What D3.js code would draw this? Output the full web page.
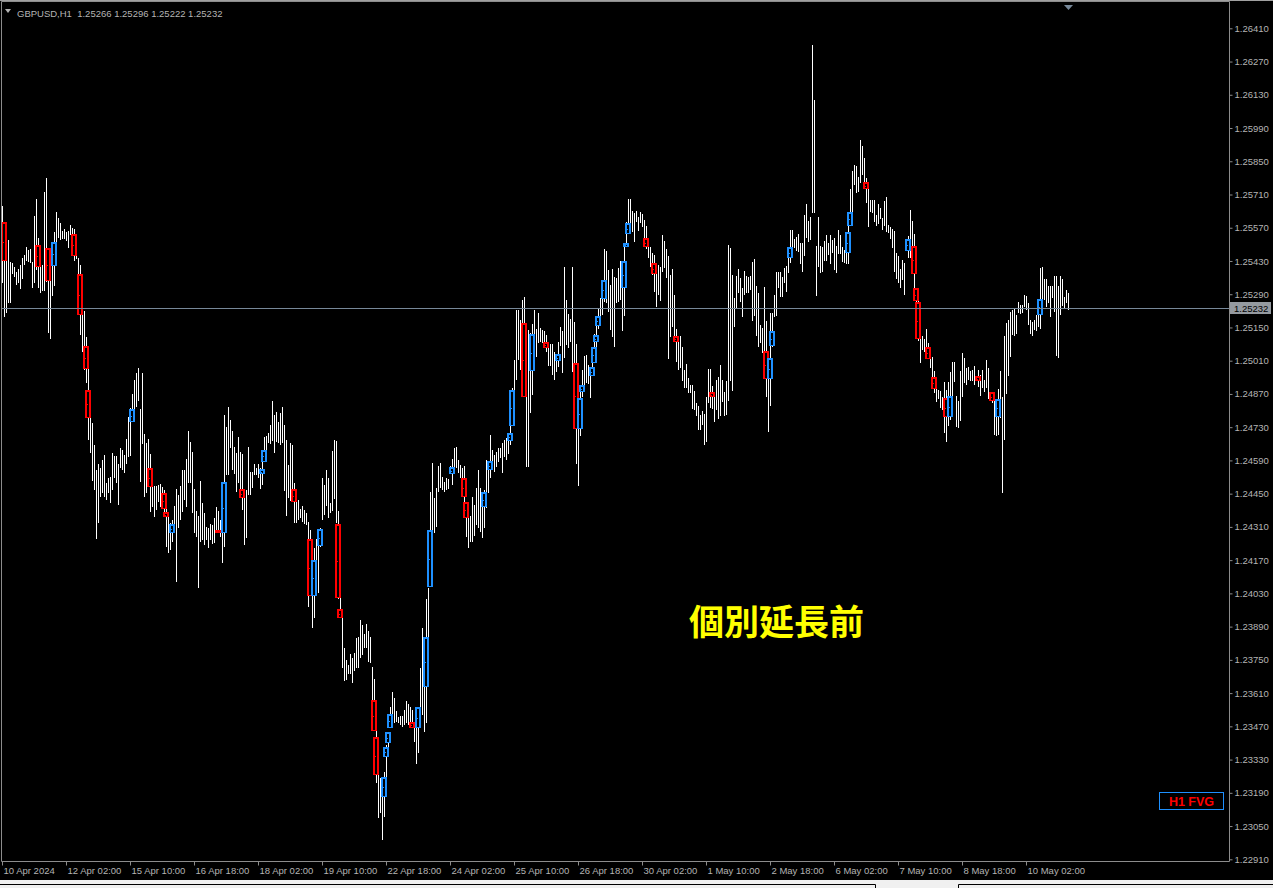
<!DOCTYPE html>
<html><head><meta charset="utf-8">
<script src="https://cdn.jsdelivr.net/npm/d3@7"></script>
<style>html,body{margin:0;padding:0;background:#000;overflow:hidden}</style>
</head><body><svg id="c" width="1273" height="888"></svg>
<script>
const symbol = "GBPUSD,H1";
const lastOHLC = ["1.25266", "1.25296", "1.25222", "1.25232"];
const bidPrice = 1.25232;
const annotation = "個別延長前";
const badge = "H1 FVG";

const timeLabels = ["10 Apr 2024","12 Apr 02:00","15 Apr 10:00","16 Apr 18:00","18 Apr 02:00","19 Apr 10:00","22 Apr 18:00","24 Apr 02:00","25 Apr 10:00","26 Apr 18:00","30 Apr 02:00","1 May 10:00","2 May 18:00","6 May 02:00","7 May 10:00","8 May 18:00","10 May 02:00"];
const timeLabelBars = [0,32,64,96,128,160,192,224,256,288,320,352,384,416,448,480,512];

const priceTicks = [1.22910,1.23050,1.23190,1.23330,1.23470,1.23610,1.23750,1.23890,1.24030,1.24170,1.24310,1.24450,1.24590,1.24730,1.24870,1.25010,1.25150,1.25290,1.25430,1.25570,1.25710,1.25850,1.25990,1.26130,1.26270,1.26410];

const high = [
1.25661,1.25434,1.25535,1.25518,1.25425,1.25420,1.25403,1.25385,1.25396,1.25413,
1.25441,1.25455,1.25489,1.25476,1.25480,1.25427,1.25619,1.25691,1.25525,1.25497,
1.25413,1.25720,1.25779,1.25476,1.25455,1.25511,1.25553,1.25636,1.25609,1.25588,
1.25556,1.25563,1.25553,1.25556,1.25581,1.25567,1.25563,1.25518,1.25441,1.25413,
1.25223,1.25219,1.25111,1.24992,1.24767,1.24746,1.24655,1.24549,1.24577,1.24556,
1.24591,1.24611,1.24493,1.24514,1.24521,1.24620,1.24608,1.24608,1.24577,1.24641,
1.24634,1.24613,1.24679,1.24774,1.24809,1.24870,1.24929,1.24959,1.24978,1.24805,
1.24958,1.24701,1.24662,1.24679,1.24617,1.24486,1.24482,1.24482,1.24486,1.24490,
1.24476,1.24465,1.24409,1.24353,1.24325,1.24339,1.24398,1.24468,1.24444,1.24482,
1.24549,1.24549,1.24594,1.24714,1.24667,1.24625,1.24469,1.24378,1.24357,1.24503,
1.24412,1.24367,1.24311,1.24304,1.24322,1.24318,1.24349,1.24395,1.24378,1.24339,
1.24499,1.24781,1.24732,1.24816,1.24760,1.24714,1.24648,1.24620,1.24690,1.24627,
1.24617,1.24465,1.24465,1.24648,1.24542,1.24542,1.24577,1.24556,1.24575,1.24556,
1.24629,1.24690,1.24694,1.24704,1.24740,1.24841,1.24782,1.24796,1.24751,1.24789,
1.24814,1.24740,1.24676,1.24571,1.24662,1.24655,1.24494,1.24466,1.24424,1.24386,
1.24396,1.24382,1.24368,1.24330,1.24297,1.24171,1.24220,1.24259,1.24297,1.24304,
1.24515,1.24487,1.24550,1.24515,1.24410,1.24630,1.24676,1.24672,1.24377,1.24017,
1.23925,1.23799,1.23750,1.23729,1.23774,1.23757,1.23778,1.23841,1.23845,1.23917,
1.23897,1.23858,1.23900,1.23872,1.23848,1.23722,1.23670,1.23581,1.23265,1.23251,
1.23237,1.23279,1.23392,1.23448,1.23553,1.23616,1.23588,1.23535,1.23511,1.23515,
1.23515,1.23539,1.23577,1.23563,1.23553,1.23539,1.23490,1.23469,1.23546,1.23715,
1.23883,1.23757,1.24007,1.24054,1.24459,1.24581,1.24431,1.24473,1.24568,1.24578,
1.24522,1.24501,1.24515,1.24512,1.24567,1.24596,1.24641,1.24646,1.24592,1.24571,
1.24560,1.24568,1.24368,1.24403,1.24354,1.24434,1.24403,1.24473,1.24550,1.24473,
1.24459,1.24466,1.24592,1.24585,1.24697,1.24634,1.24613,1.24627,1.24641,1.24641,
1.24662,1.24676,1.24683,1.24704,1.24747,1.24895,1.25013,1.25223,1.25223,1.25181,
1.25266,1.25278,1.25097,1.25139,1.25126,1.25165,1.25224,1.25144,1.25210,1.25147,
1.25140,1.25135,1.25119,1.25081,1.25081,1.25081,1.25046,1.25027,1.25090,1.25151,
1.25135,1.25403,1.25266,1.25205,1.25184,1.25403,1.25172,1.25079,1.24852,1.24901,
1.24971,1.25030,1.25034,1.24992,1.24978,1.25069,1.25123,1.25182,1.25227,1.25273,
1.25350,1.25481,1.25472,1.25392,1.25329,1.25395,1.25361,1.25357,1.25399,1.25430,
1.25427,1.25505,1.25596,1.25690,1.25690,1.25642,1.25631,1.25642,1.25617,1.25638,
1.25628,1.25603,1.25578,1.25488,1.25488,1.25462,1.25455,1.25418,1.25413,1.25406,
1.25540,1.25516,1.25479,1.25451,1.25371,1.25398,1.25287,1.25145,1.25116,1.25114,
1.25069,1.24971,1.24996,1.24936,1.24908,1.24908,1.24883,1.24833,1.24819,1.24782,
1.24800,1.24784,1.24859,1.24975,1.24975,1.24904,1.24859,1.24929,1.24943,1.24992,
1.24929,1.24880,1.24926,1.25498,1.25484,1.25371,1.25276,1.25367,1.25397,1.25357,
1.25315,1.25388,1.25367,1.25361,1.25367,1.25425,1.25439,1.25325,1.25297,1.25161,
1.25147,1.25319,1.25177,1.24999,1.25213,1.25210,1.25287,1.25382,1.25382,1.25385,
1.25361,1.25399,1.25409,1.25484,1.25561,1.25561,1.25521,1.25533,1.25544,1.25505,
1.25505,1.25624,1.25670,1.25600,1.25614,1.26340,1.26108,1.25491,1.25614,1.25493,
1.25488,1.25515,1.25540,1.25505,1.25540,1.25519,1.25526,1.25491,1.25561,1.25540,
1.25488,1.25477,1.25547,1.25638,1.25732,1.25811,1.25835,1.25830,1.25785,1.25940,
1.25915,1.25864,1.25778,1.25739,1.25687,1.25687,1.25687,1.25624,1.25670,1.25652,
1.25610,1.25684,1.25698,1.25582,1.25575,1.25565,1.25557,1.25463,1.25451,1.25397,
1.25434,1.25420,1.25523,1.25536,1.25645,1.25600,1.25544,1.25311,1.25266,1.25112,
1.25114,1.25100,1.25142,1.25083,1.25055,1.25025,1.24968,1.24894,1.24887,1.24883,
1.24859,1.24919,1.24887,1.24919,1.24964,1.25003,1.25003,1.24863,1.24842,1.24968,
1.25044,1.25020,1.24978,1.24982,1.24968,1.24971,1.24988,1.24943,1.24971,1.24950,
1.24971,1.24929,1.25013,1.24978,1.24880,1.24866,1.24866,1.24831,1.24890,1.24968,
1.24859,1.25112,1.25168,1.25182,1.25217,1.25224,1.25231,1.25203,1.25259,1.25245,
1.25245,1.25287,1.25283,1.25252,1.25182,1.25175,1.25182,1.25203,1.25266,1.25399,
1.25406,1.25353,1.25353,1.25325,1.25325,1.25325,1.25367,1.25367,1.25325,1.25367,
1.25353,1.25280,1.25308,1.25296];

const low = [
1.25336,1.25195,1.25212,1.25251,1.25254,1.25375,1.25361,1.25329,1.25338,1.25313,
1.25355,1.25413,1.25431,1.25427,1.25423,1.25317,1.25336,1.25392,1.25315,1.25296,
1.25305,1.25305,1.25343,1.25125,1.25100,1.25282,1.25326,1.25511,1.25525,1.25518,
1.25522,1.25522,1.25515,1.25486,1.25539,1.25451,1.25431,1.25437,1.25361,1.25118,
1.25048,1.24971,1.24914,1.24676,1.24620,1.24504,1.24465,1.24257,1.24325,1.24437,
1.24451,1.24437,1.24423,1.24451,1.24409,1.24465,1.24514,1.24493,1.24401,1.24556,
1.24549,1.24538,1.24577,1.24606,1.24608,1.24774,1.24774,1.24816,1.24841,1.24500,
1.24659,1.24437,1.24454,1.24514,1.24374,1.24395,1.24350,1.24381,1.24416,1.24392,
1.24409,1.24350,1.24227,1.24198,1.24212,1.24248,1.24290,1.24079,1.24304,1.24339,
1.24374,1.24423,1.24395,1.24493,1.24493,1.24367,1.24285,1.24269,1.24051,1.24248,
1.24255,1.24234,1.24255,1.24220,1.24255,1.24238,1.24241,1.24290,1.24287,1.24269,
1.24159,1.24224,1.24528,1.24528,1.24641,1.24549,1.24533,1.24458,1.24497,1.24458,
1.24381,1.24234,1.24262,1.24444,1.24444,1.24472,1.24528,1.24528,1.24518,1.24468,
1.24486,1.24591,1.24627,1.24665,1.24658,1.24672,1.24620,1.24669,1.24665,1.24655,
1.24662,1.24463,1.24358,1.24431,1.24419,1.24431,1.24328,1.24328,1.24339,1.24346,
1.24332,1.24321,1.24318,1.23974,1.24024,1.23883,1.23925,1.24024,1.24031,1.24227,
1.24339,1.24361,1.24396,1.24346,1.24370,1.24375,1.24428,1.24325,1.24007,1.23925,
1.23717,1.23659,1.23666,1.23689,1.23689,1.23651,1.23701,1.23715,1.23717,1.23757,
1.23771,1.23799,1.23799,1.23740,1.23736,1.23507,1.23469,1.23230,1.23083,1.23104,
1.22992,1.23090,1.23230,1.23378,1.23462,1.23497,1.23483,1.23490,1.23483,1.23476,
1.23469,1.23476,1.23483,1.23476,1.23469,1.23462,1.23406,1.23310,1.23357,1.23476,
1.23518,1.23448,1.23483,1.23799,1.24059,1.24227,1.24283,1.24311,1.24459,1.24473,
1.24466,1.24456,1.24466,1.24470,1.24536,1.24487,1.24536,1.24557,1.24536,1.24515,
1.24452,1.24391,1.24269,1.24220,1.24248,1.24248,1.24273,1.24318,1.24304,1.24290,
1.24262,1.24304,1.24391,1.24452,1.24515,1.24557,1.24543,1.24564,1.24585,1.24599,
1.24536,1.24606,1.24592,1.24616,1.24655,1.24740,1.24844,1.24929,1.25013,1.24971,
1.25097,1.24865,1.24562,1.24562,1.24791,1.24866,1.24971,1.25027,1.25086,1.25090,
1.25083,1.25072,1.25048,1.24988,1.24988,1.24950,1.24929,1.24964,1.24985,1.25072,
1.24960,1.25023,1.25076,1.25065,1.25090,1.24964,1.24721,1.24575,1.24484,1.24693,
1.24859,1.24901,1.24915,1.24912,1.24852,1.24957,1.25020,1.25069,1.25142,1.25196,
1.25203,1.25259,1.25252,1.25217,1.25140,1.25111,1.25067,1.25252,1.25259,1.25266,
1.25137,1.25199,1.25491,1.25554,1.25568,1.25554,1.25512,1.25596,1.25558,1.25589,
1.25575,1.25512,1.25479,1.25441,1.25406,1.25371,1.25301,1.25235,1.25287,1.25263,
1.25385,1.25399,1.25357,1.25016,1.25111,1.25154,1.25102,1.25006,1.24971,1.24978,
1.24926,1.24894,1.24894,1.24876,1.24873,1.24805,1.24803,1.24775,1.24718,1.24718,
1.24739,1.24655,1.24669,1.24831,1.24810,1.24807,1.24753,1.24803,1.24763,1.24775,
1.24838,1.24775,1.24782,1.24842,1.24926,1.24884,1.25151,1.25227,1.25294,1.25259,
1.25196,1.25287,1.25294,1.25294,1.25308,1.25179,1.25199,1.25114,1.25069,1.25086,
1.25041,1.24936,1.24859,1.24711,1.24819,1.25069,1.25196,1.25199,1.25315,1.25280,
1.25280,1.25336,1.25301,1.25378,1.25420,1.25462,1.25484,1.25470,1.25467,1.25418,
1.25385,1.25451,1.25526,1.25512,1.25519,1.25634,1.25634,1.25284,1.25404,1.25381,
1.25385,1.25432,1.25432,1.25456,1.25418,1.25465,1.25392,1.25378,1.25460,1.25460,
1.25427,1.25423,1.25418,1.25418,1.25579,1.25631,1.25750,1.25715,1.25722,1.25757,
1.25792,1.25750,1.25676,1.25575,1.25638,1.25634,1.25596,1.25578,1.25586,1.25606,
1.25561,1.25578,1.25554,1.25547,1.25522,1.25484,1.25385,1.25353,1.25339,1.25315,
1.25350,1.25287,1.25474,1.25442,1.25442,1.25374,1.25262,1.25175,1.25091,1.24999,
1.25055,1.25048,1.25055,1.25016,1.24978,1.24894,1.24873,1.24838,1.24848,1.24812,
1.24803,1.24707,1.24669,1.24735,1.24760,1.24828,1.24922,1.24730,1.24725,1.24758,
1.24859,1.24915,1.24908,1.24929,1.24926,1.24926,1.24908,1.24926,1.24901,1.24863,
1.24894,1.24880,1.24894,1.24848,1.24848,1.24831,1.24697,1.24693,1.24697,1.24768,
1.24452,1.24676,1.24870,1.24946,1.25027,1.25119,1.25112,1.25123,1.25210,1.25207,
1.25213,1.25238,1.25224,1.25161,1.25123,1.25112,1.25140,1.25135,1.25154,1.25142,
1.25238,1.25266,1.25238,1.25252,1.25196,1.25273,1.25217,1.25030,1.25020,1.25203,
1.25241,1.25231,1.25252,1.25222];

// Fair value gap boxes: bar index, top price, bottom price, direction
const fvgBar = [1,18,23,26,36,39,42,43,65,74,81,82,85,108,111,120,130,131,146,154,156,159,168,169,186,187,191,192,193,194,205,208,212,214,225,231,232,241,244,254,255,261,265,272,278,287,289,290,295,296,297,298,301,311,312,313,322,326,337,355,382,384,385,394,423,424,432,453,456,457,458,463,466,472,474,488,495,498,519];
const fvgTop = [1.25593,1.25499,1.25486,1.25511,1.25542,1.25374,1.25071,1.24885,1.24808,1.24557,1.24454,1.24371,1.24321,1.24297,1.24500,1.24468,1.24554,1.24632,1.24471,1.24258,1.24169,1.24302,1.24321,1.23963,1.23581,1.23424,1.23255,1.23384,1.23447,1.23521,1.23489,1.23553,1.23847,1.24297,1.24564,1.24515,1.24416,1.24458,1.24586,1.24707,1.24887,1.25169,1.25121,1.25090,1.25038,1.24999,1.24852,1.24908,1.24985,1.25069,1.25118,1.25198,1.25350,1.25429,1.25504,1.25591,1.25528,1.25420,1.25114,1.24877,1.25052,1.25020,1.25136,1.25490,1.25553,1.25637,1.25761,1.25522,1.25494,1.25315,1.25256,1.25066,1.24942,1.24852,1.24862,1.24945,1.24879,1.24847,1.25270];
const fvgBottom = [1.25430,1.25403,1.25346,1.25410,1.25450,1.25201,1.24976,1.24767,1.24750,1.24477,1.24384,1.24350,1.24283,1.24285,1.24285,1.24430,1.24531,1.24584,1.24416,1.24018,1.24018,1.24231,1.24009,1.23925,1.23450,1.23265,1.23171,1.23340,1.23398,1.23462,1.23462,1.23462,1.23634,1.24058,1.24534,1.24435,1.24346,1.24393,1.24550,1.24673,1.24736,1.24857,1.24968,1.25062,1.25010,1.24721,1.24721,1.24879,1.24947,1.24999,1.25090,1.25157,1.25269,1.25315,1.25488,1.25542,1.25490,1.25374,1.25090,1.24856,1.24932,1.24932,1.25072,1.25444,1.25462,1.25578,1.25732,1.25473,1.25374,1.25263,1.25100,1.25017,1.24889,1.24771,1.24771,1.24926,1.24841,1.24774,1.25202];
const fvgDir = ["bear","bear","bear","bull","bear","bear","bear","bear","bull","bear","bear","bear","bull","bear","bull","bear","bull","bull","bear","bear","bull","bull","bear","bear","bear","bear","bull","bull","bull","bull","bear","bull","bull","bull","bull","bear","bear","bull","bull","bull","bull","bear","bull","bear","bull","bear","bull","bull","bull","bull","bull","bull","bull","bull","bull","bull","bear","bear","bear","bear","bear","bull","bull","bull","bull","bull","bear","bull","bear","bear","bear","bear","bear","bear","bull","bear","bear","bull","bull"];

const W = 1273, H = 888;
const frameRight = 1229.5, frameBottom = 861.5, frameTop = 1.5, frameLeft = 1.5;
const fg = "#b4b4b4", gridGray = "#8c8c8c";
const font = "'Liberation Sans', Arial, sans-serif";

const svg = d3.select("#c");
svg.append("rect").attr("width", W).attr("height", H).attr("fill", "#000");

const x = d3.scaleLinear().domain([0, high.length - 1]).range([2, 2 + 2 * (high.length - 1)]);
const y = d3.scaleLinear().domain([1.22910, 1.26410]).range([859.3, 28.3]);

// bars
const bars = d3.range(high.length);
svg.append("g").selectAll("rect").data(bars).join("rect")
  .attr("x", i => Math.round(x(i)))
  .attr("width", 1)
  .attr("y", i => Math.round(y(high[i])))
  .attr("height", i => Math.max(1, Math.round(y(low[i])) - Math.round(y(high[i]))))
  .attr("fill", "#ffffff");

// FVG boxes (crisp outlined rectangles with a small mid mark)
const colorOf = d => d === "bull" ? "#1e90ff" : "#ff0000";
const gF = svg.append("g").attr("shape-rendering", "crispEdges");
fvgBar.forEach((b, k) => {
  const bx = Math.round(x(b));
  const y0 = Math.round(y(fvgTop[k])), y1 = Math.max(Math.round(y(fvgBottom[k])), Math.round(y(fvgTop[k])) + 3);
  const c = colorOf(fvgDir[k]);
  gF.append("rect").attr("x", bx - 3).attr("y", y0).attr("width", 6).attr("height", y1 - y0).attr("fill", c);
  if (y1 - y0 > 3) {
    gF.append("rect").attr("x", bx - 1).attr("y", y0 + 1.5).attr("width", 2)
      .attr("height", Math.max(0, y1 - y0 - 3)).attr("fill", "#000");
    const my = Math.round((y0 + y1) / 2);
    gF.append("rect").attr("x", bx - 1).attr("y", my).attr("width", 1).attr("height", 1).attr("fill", c);
  }
});

// bid line
const by = Math.round(y(bidPrice)) + 0.5;
svg.append("line").attr("x1", frameLeft).attr("x2", frameRight).attr("y1", by).attr("y2", by)
  .attr("stroke", "#778899").attr("stroke-width", 1);

// frame
svg.append("line").attr("x1", 0).attr("x2", W).attr("y1", 0.5).attr("y2", 0.5).attr("stroke", "#a0a0a0");
svg.append("path")
  .attr("d", `M${frameLeft},${frameTop}V${frameBottom}H${frameRight}V${frameTop}H${frameLeft}`)
  .attr("fill", "none").attr("stroke", gridGray).attr("stroke-width", 1);

// y axis
const yAxis = d3.axisRight(y).tickValues(priceTicks).tickFormat(d3.format(".5f")).tickSize(3).tickPadding(2);
const gy = svg.append("g").attr("transform", `translate(${frameRight},0)`).call(yAxis);
gy.select(".domain").remove();
gy.selectAll(".tick line").attr("stroke", gridGray);
gy.selectAll(".tick text").attr("fill", fg).style("font-family", font).style("font-size", "9.5px");

// x axis
const xAxis = d3.axisBottom(x).tickValues(timeLabelBars).tickFormat((d, i) => timeLabels[i]).tickSize(4).tickPadding(2);
const gx = svg.append("g").attr("transform", `translate(0,${frameBottom})`).call(xAxis);
gx.select(".domain").remove();
gx.selectAll(".tick line").attr("stroke", gridGray);
gx.selectAll(".tick text").attr("fill", fg).attr("text-anchor", "start").attr("x", 1)
  .style("font-family", font).style("font-size", "9.5px");

// bid label
svg.append("rect").attr("x", 1230).attr("y", by - 6.5).attr("width", 41).attr("height", 12)
  .attr("fill", "#959aa0");
svg.append("text").attr("x", 1234).attr("y", by + 3.5).text(d3.format(".5f")(bidPrice))
  .attr("fill", "#000").style("font-family", font).style("font-size", "9.5px");

// header
svg.append("path").attr("d", "M5,9H11L8,13Z").attr("fill", fg);
svg.append("text").attr("x", 17).attr("y", 16.5)
  .text(symbol + "  " + lastOHLC.join(" "))
  .attr("fill", fg).attr("xml:space", "preserve").style("white-space", "pre")
  .style("font-family", font).style("font-size", "9.5px");

// chart shift marker
svg.append("path").attr("d", "M1064,5H1073L1068.5,10Z").attr("fill", "#778899");

// annotation
svg.append("text").attr("x", 689).attr("y", 635).text(annotation)
  .attr("fill", "#ffff00").style("font-family", "'Noto Sans CJK JP', sans-serif")
  .style("font-weight", "bold").style("font-size", "35px");

// badge
svg.append("rect").attr("x", 1159.5).attr("y", 792.5).attr("width", 64).attr("height", 17)
  .attr("fill", "#000").attr("stroke", "#1e90ff").attr("stroke-width", 1);
svg.append("text").attr("x", 1191.5).attr("y", 805.5).attr("text-anchor", "middle").text(badge)
  .attr("fill", "#ff0000").style("font-family", font).style("font-weight", "bold").style("font-size", "12.5px");

// bottom tab strip
svg.append("rect").attr("x", 0).attr("y", 880).attr("width", W).attr("height", 8).attr("fill", "#f0f0f0");
svg.append("path").attr("d", "M0,884.5H875.5V888").attr("fill", "none").attr("stroke", "#000");
svg.append("path").attr("d", "M958.5,888V884.5H1273").attr("fill", "none").attr("stroke", "#000");
</script>
</body></html>
